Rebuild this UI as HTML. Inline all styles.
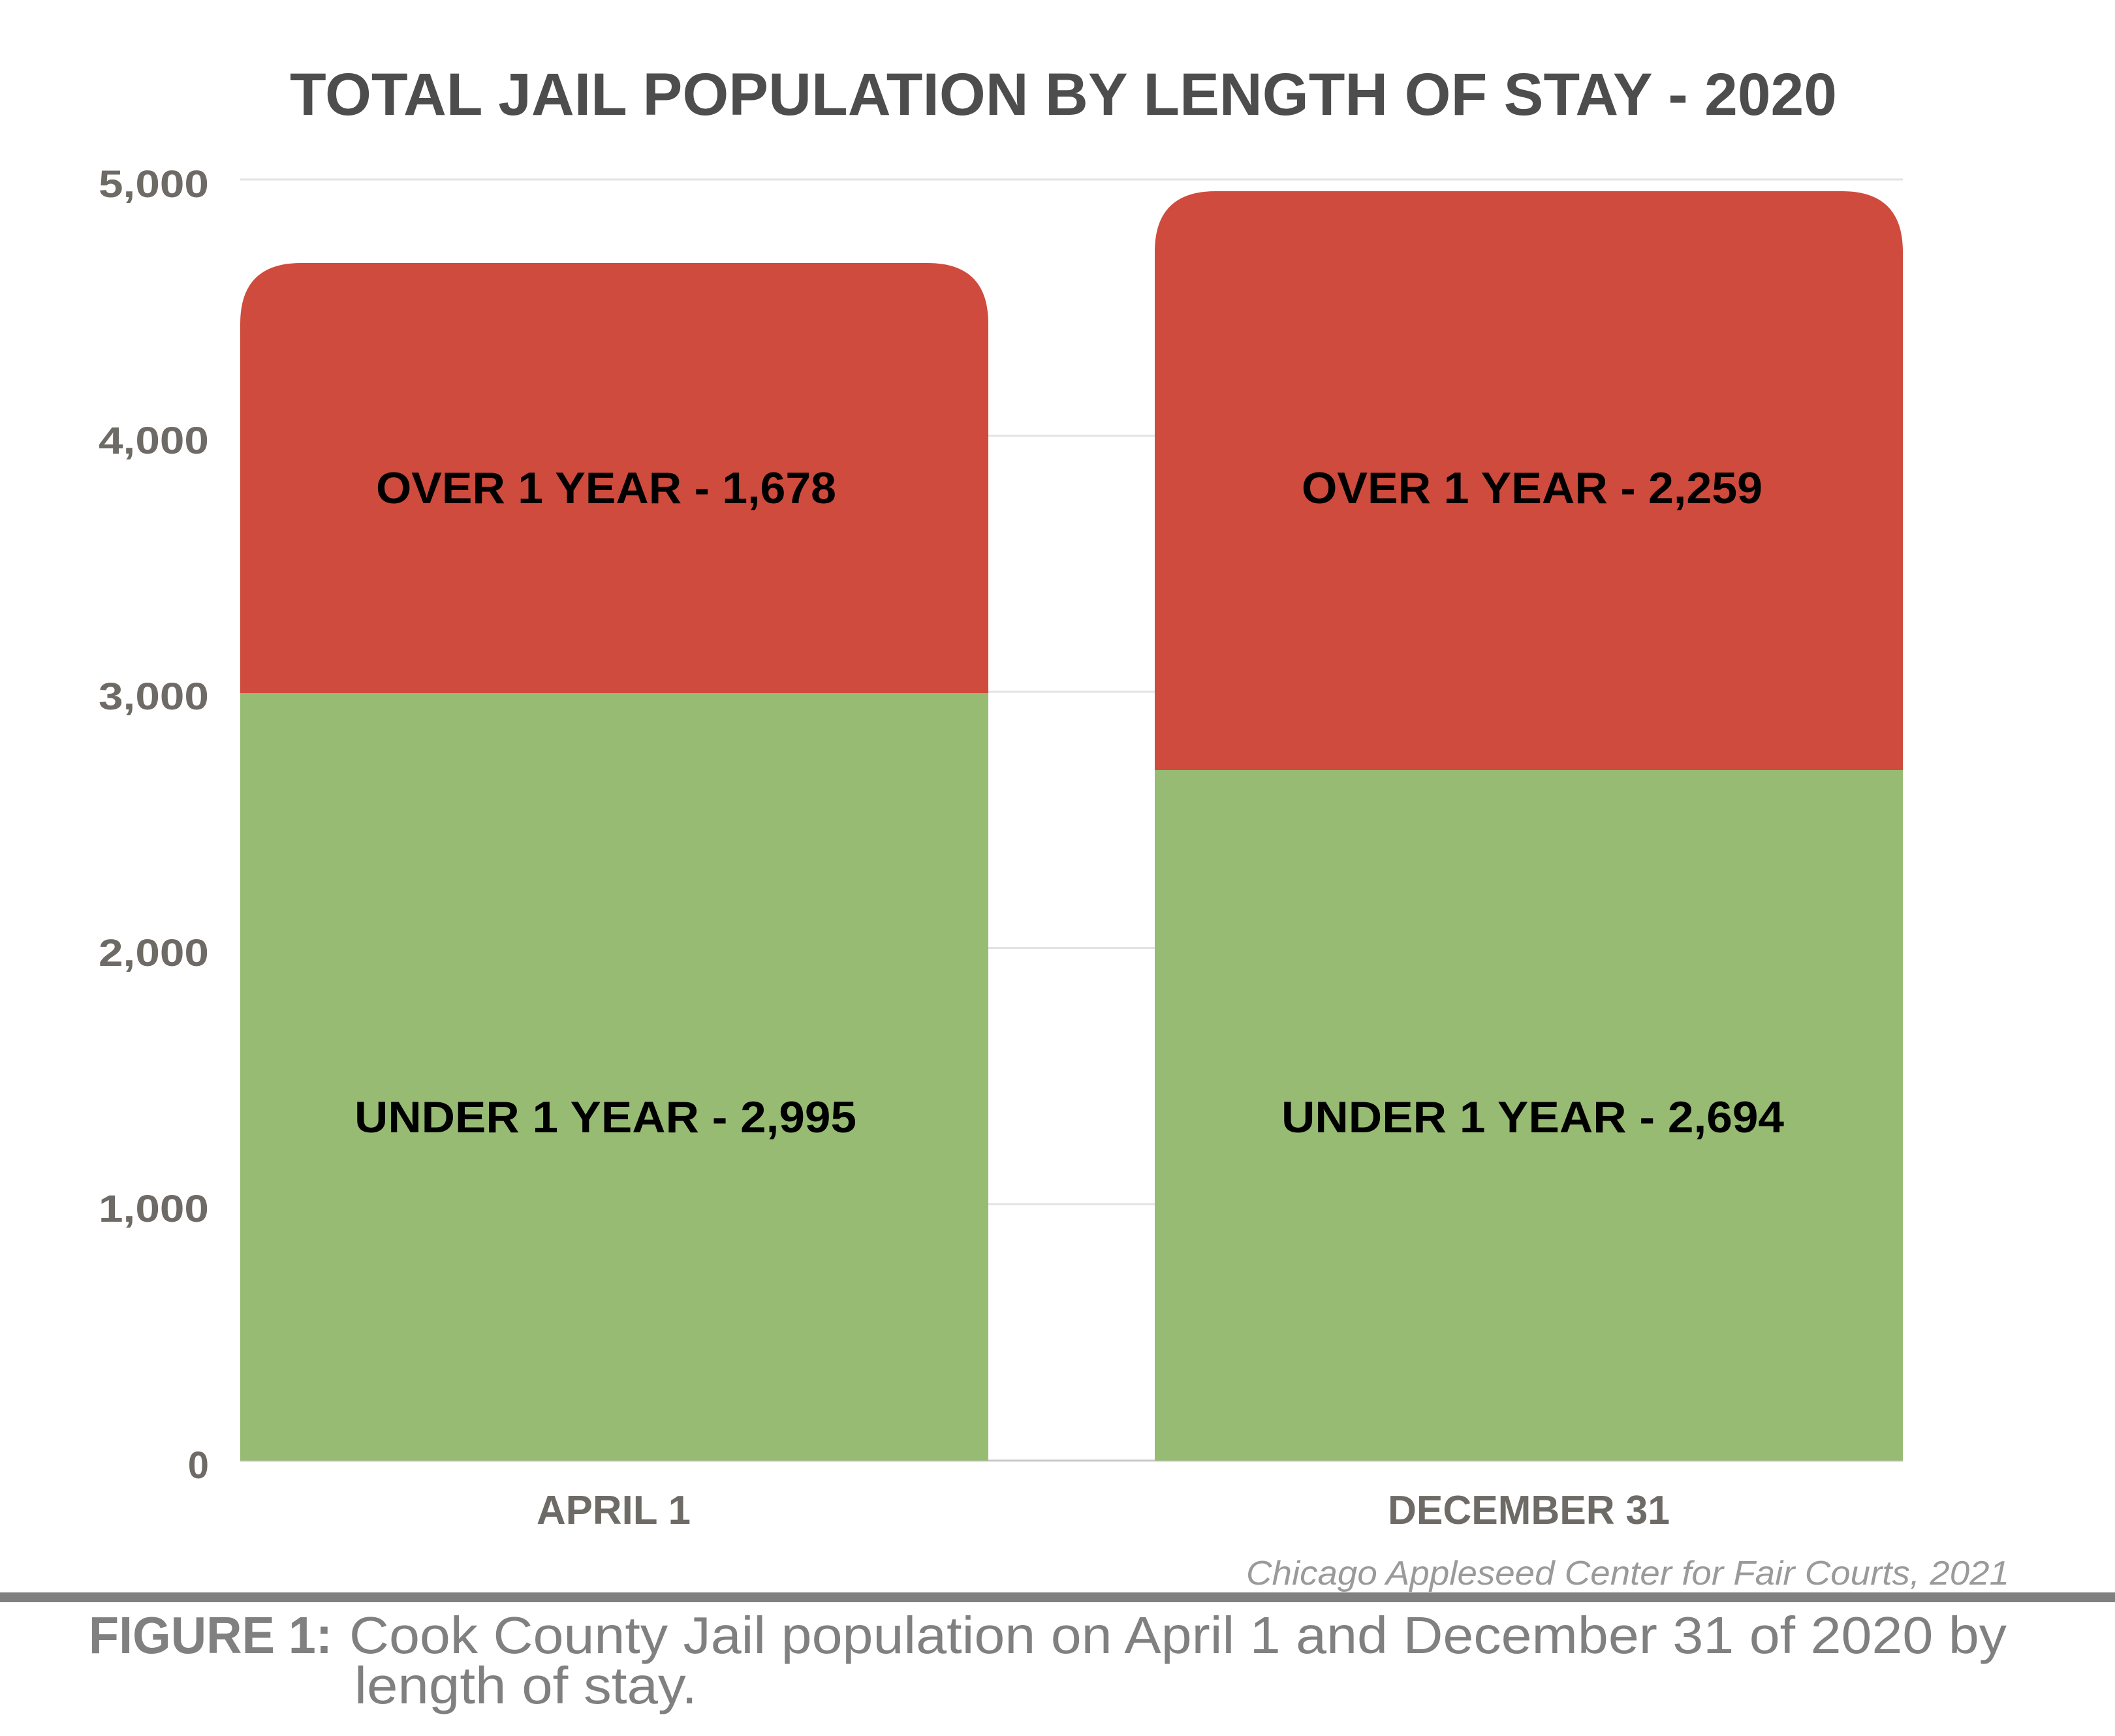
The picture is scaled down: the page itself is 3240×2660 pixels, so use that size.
<!DOCTYPE html>
<html><head><meta charset="utf-8"><style>html,body{margin:0;padding:0;background:#fff}svg{display:block}</style></head>
<body>
<svg width="3240" height="2660" viewBox="0 0 3240 2660" xmlns="http://www.w3.org/2000/svg" font-family="Liberation Sans, sans-serif">
<rect width="3240" height="2660" fill="#fff"/>
<text x="444" y="176" font-size="92" font-weight="bold" fill="#4d4d4d" textLength="2370" lengthAdjust="spacingAndGlyphs">TOTAL JAIL POPULATION BY LENGTH OF STAY - 2020</text>
<g stroke="#e3e3e3" stroke-width="3">
<line x1="368" y1="275" x2="2915" y2="275"/><line x1="368" y1="667.6" x2="2915" y2="667.6"/><line x1="368" y1="1060" x2="2915" y2="1060"/><line x1="368" y1="1452.5" x2="2915" y2="1452.5"/><line x1="368" y1="1845" x2="2915" y2="1845"/>
</g>
<line x1="368" y1="2238" x2="2915" y2="2238" stroke="#c8c8c8" stroke-width="3"/>
<g font-size="58" font-weight="bold" fill="#6e6b66" text-anchor="end">
<text x="320" y="302" textLength="169" lengthAdjust="spacingAndGlyphs">5,000</text>
<text x="320" y="695" textLength="169" lengthAdjust="spacingAndGlyphs">4,000</text>
<text x="320" y="1087" textLength="169" lengthAdjust="spacingAndGlyphs">3,000</text>
<text x="320" y="1480" textLength="169" lengthAdjust="spacingAndGlyphs">2,000</text>
<text x="320" y="1872" textLength="169" lengthAdjust="spacingAndGlyphs">1,000</text>
<text x="320" y="2265">0</text>
</g>
<path d="M368 1062 V496 Q368 403 461 403 H1421 Q1514 403 1514 496 V1062 Z" fill="#cf4b3d"/>
<rect x="368" y="1062" width="1146" height="1176" fill="#97bb73"/>
<path d="M1769 1180 V386 Q1769 293 1862 293 H2822 Q2915 293 2915 386 V1180 Z" fill="#cf4b3d"/>
<rect x="1769" y="1180" width="1146" height="1058" fill="#97bb73"/>
<g font-size="68" font-weight="bold" fill="#000">
<text x="576" y="771" textLength="705" lengthAdjust="spacingAndGlyphs">OVER 1 YEAR - 1,678</text>
<text x="543" y="1735" textLength="769" lengthAdjust="spacingAndGlyphs">UNDER 1 YEAR - 2,995</text>
<text x="1994" y="771" textLength="706" lengthAdjust="spacingAndGlyphs">OVER 1 YEAR - 2,259</text>
<text x="1963" y="1735" textLength="770" lengthAdjust="spacingAndGlyphs">UNDER 1 YEAR - 2,694</text>
</g>
<g font-size="62" font-weight="bold" fill="#6e6b66">
<text x="822" y="2335" textLength="236" lengthAdjust="spacingAndGlyphs">APRIL 1</text>
<text x="2126" y="2335" textLength="432" lengthAdjust="spacingAndGlyphs">DECEMBER 31</text>
</g>
<text x="1909" y="2428" font-size="52" font-style="italic" fill="#9a9a9a" textLength="1169" lengthAdjust="spacingAndGlyphs">Chicago Appleseed Center for Fair Courts, 2021</text>
<rect x="0" y="2440" width="3240" height="15" fill="#808080"/>
<text x="136" y="2533" font-size="80" font-weight="bold" fill="#808080" textLength="373" lengthAdjust="spacingAndGlyphs">FIGURE 1:</text>
<text x="535" y="2533" font-size="80" fill="#808080" textLength="2539" lengthAdjust="spacingAndGlyphs">Cook County Jail population on April 1 and December 31 of 2020 by</text>
<text x="543" y="2610" font-size="80" fill="#808080" textLength="525" lengthAdjust="spacingAndGlyphs">length of stay.</text>
</svg>
</body></html>
